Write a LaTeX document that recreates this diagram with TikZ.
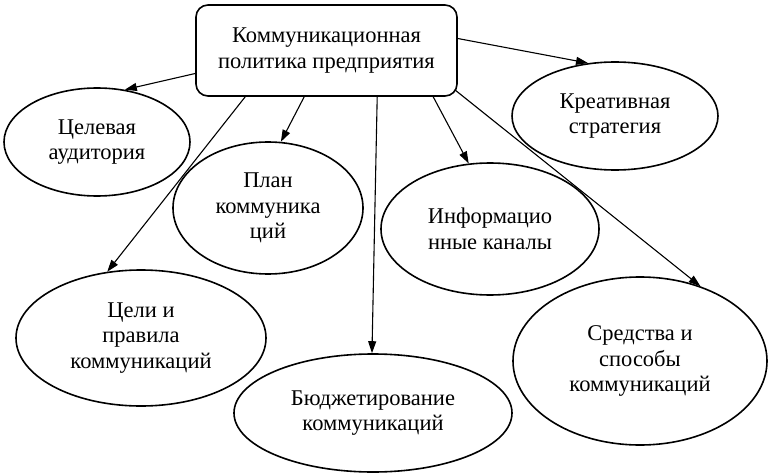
\documentclass[tikz,border=0pt]{standalone}
\usepackage{fontspec}
\setmainfont{Liberation Serif}
\usetikzlibrary{shapes.geometric,arrows.meta}
\begin{document}
\begin{tikzpicture}[x=1pt,y=-1pt,
  every node/.style={font=\fontsize{22.5}{25.5}\selectfont, align=center, inner sep=0pt},
  oval/.style={ellipse, draw, line width=1.6pt},
  mainbox/.style={draw, rounded corners=12pt, line width=1.6pt},
  arr/.style={line width=1.1pt, -{Triangle[length=12pt,width=8pt]}}]
\useasboundingbox (0,0) rectangle (768,476);
\node[mainbox, minimum width=261pt, minimum height=91pt] (box) at (326.5,50.5) {Коммуникационная\\политика предприятия};
\node[oval, minimum width=186pt, minimum height=108pt] (cel) at (97,142) {Целевая\\аудитория};
\node[oval, minimum width=190pt, minimum height=132pt] (plan) at (268,208) {План\\коммуника\\ций};
\node[oval, minimum width=206pt, minimum height=108pt] (kre) at (615,116) {Креативная\\стратегия};
\node[oval, minimum width=218pt, minimum height=132pt] (inf) at (490,229) {Информацио\\нные каналы};
\node[oval, minimum width=250pt, minimum height=136pt] (celi) at (141,338) {Цели и\\правила\\коммуникаций};
\node[oval, minimum width=278pt, minimum height=118pt] (bud) at (373,413) {Бюджетирование\\коммуникаций};
\node[oval, minimum width=254pt, minimum height=168pt] (sred) at (640,361) {Средства и\\способы\\коммуникаций};
\draw[arr] ([yshift=-23pt]box.west) -- (cel.62);
\draw[arr] ([xshift=109pt]box.south west) -- (plan.79);
\draw[arr] ([xshift=50pt]box.south west) -- (celi.117);
\draw[arr] ([xshift=182pt]box.south west) -- (bud.91);
\draw[arr] ([xshift=238pt]box.south west) -- (inf.108);
\draw[arr] ([yshift=12pt]box.east) -- (kre.117);
\draw[arr] ([xshift=-3pt,yshift=7pt]box.south east) -- (sred.51);
\end{tikzpicture}
\end{document}
